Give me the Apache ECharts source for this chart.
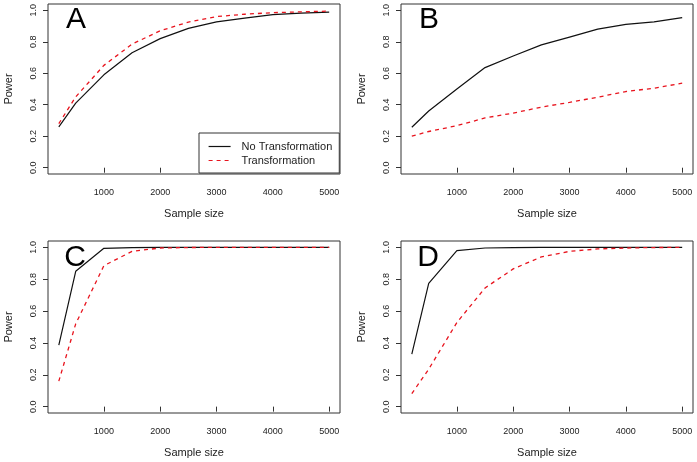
<!DOCTYPE html>
<html>
<head>
<meta charset="utf-8">
<script src="https://cdn.jsdelivr.net/npm/echarts@6/dist/echarts.min.js"></script>
<style>
  html, body { margin: 0; padding: 0; background: #fff; }
  #chart { width: 697px; height: 462px; }
</style>
</head>
<body>
<div id="chart"></div>
<script>
// sample sizes used in the simulation
var sampleSizes = [200, 500, 1000, 1500, 2000, 2500, 3000, 3500, 4000, 4500, 5000];
var xTicks = [1000, 2000, 3000, 4000, 5000];
var yTicks = [0, 0.2, 0.4, 0.6, 0.8, 1.0];
var seriesNames = ['No Transformation', 'Transformation'];
var panelLetters = ['A', 'B', 'C', 'D'];

// power values
var aNoTrans = [0.26, 0.41, 0.59, 0.73, 0.82, 0.885, 0.926, 0.95, 0.972, 0.982, 0.988];
var aTrans   = [0.28, 0.45, 0.65, 0.785, 0.87, 0.925, 0.96, 0.975, 0.985, 0.99, 0.995];
var bNoTrans = [0.257, 0.36, 0.50, 0.636, 0.71, 0.78, 0.83, 0.88, 0.91, 0.926, 0.954];
var bTrans   = [0.20, 0.23, 0.267, 0.316, 0.347, 0.385, 0.415, 0.448, 0.484, 0.505, 0.537];
var cNoTrans = [0.386, 0.85, 0.994, 0.998, 1, 1, 1, 1, 1, 1, 1];
var cTrans   = [0.16, 0.52, 0.885, 0.975, 0.996, 0.999, 1, 1, 1, 1, 1];
var dNoTrans = [0.33, 0.774, 0.98, 0.996, 0.999, 1, 1, 1, 1, 1, 1];
var dTrans   = [0.082, 0.235, 0.528, 0.745, 0.865, 0.94, 0.975, 0.99, 0.996, 0.999, 1];

var panelData = [[aNoTrans, aTrans], [bNoTrans, bTrans], [cNoTrans, cTrans], [dNoTrans, dTrans]];

// plot boxes (R style, 4% padding around the data range)
var boxes = [
  { left: 48, top: 4, width: 292, height: 170 },
  { left: 401, top: 4, width: 292, height: 170 },
  { left: 48, top: 241, width: 292, height: 172 },
  { left: 401, top: 241, width: 292, height: 172 }
];
var letterPos = [[76, 20], [429, 20], [75, 258], [428, 258]];

var font = '"Liberation Sans", Arial, sans-serif';
var ink = '#222';

var toPairs = function(values) {
  return sampleSizes.map(function(x, i) { return [x, values[i]]; });
};

var grids = [], xAxes = [], yAxes = [], series = [], graphics = [];

boxes.forEach(function(box, i) {
  grids.push({
    left: box.left, top: box.top, width: box.width, height: box.height,
    show: true, borderColor: '#333', borderWidth: 1, backgroundColor: 'transparent'
  });
  xAxes.push({
    gridIndex: i,
    type: 'value',
    min: 8,
    max: 5192,
    name: 'Sample size',
    nameLocation: 'middle',
    nameGap: 34,
    nameTextStyle: { fontFamily: font, fontSize: 11, color: ink },
    axisLine: { show: false },
    axisTick: { show: true, inside: false, length: 5, customValues: xTicks, lineStyle: { color: '#333' } },
    axisLabel: {
      customValues: xTicks, fontFamily: font, fontSize: 9, color: ink, margin: 14,
      formatter: function(v) { return String(v); }
    },
    splitLine: { show: false }
  });
  yAxes.push({
    gridIndex: i,
    type: 'value',
    min: -0.04,
    max: 1.04,
    name: 'Power',
    nameLocation: 'middle',
    nameGap: 34,
    nameTextStyle: { fontFamily: font, fontSize: 11, color: ink },
    axisLine: { show: false },
    axisTick: { show: true, inside: false, length: 5, customValues: yTicks, lineStyle: { color: '#333' } },
    axisLabel: {
      customValues: yTicks, rotate: 90, fontFamily: font, fontSize: 9, color: ink, margin: 10,
      formatter: function(v) { return v.toFixed(1); }
    },
    splitLine: { show: false }
  });
  series.push({
    name: seriesNames[0],
    type: 'line',
    xAxisIndex: i,
    yAxisIndex: i,
    data: toPairs(panelData[i][0]),
    symbol: 'none',
    lineStyle: { color: '#111', width: 1.2 },
    itemStyle: { color: '#111' }
  });
  series.push({
    name: seriesNames[1],
    type: 'line',
    xAxisIndex: i,
    yAxisIndex: i,
    data: toPairs(panelData[i][1]),
    symbol: 'none',
    lineStyle: { color: '#e8141e', width: 1.3, type: [4, 4] },
    itemStyle: { color: '#e8141e' }
  });
  // big panel letter
  graphics.push({
    type: 'text',
    x: letterPos[i][0],
    y: letterPos[i][1],
    z: 100,
    style: {
      text: panelLetters[i],
      font: '30px ' + font,
      fill: '#000',
      textAlign: 'center',
      textVerticalAlign: 'middle'
    }
  });
});

var chart = echarts.init(document.getElementById('chart'), null, { renderer: 'canvas' });
chart.setOption({
  animation: false,
  backgroundColor: '#fff',
  grid: grids,
  xAxis: xAxes,
  yAxis: yAxes,
  legend: {
    data: seriesNames,
    orient: 'vertical',
    left: 199,
    top: 133,
    padding: [8, 7, 7, 9],
    itemWidth: 22,
    itemHeight: 12,
    itemGap: 3,
    borderColor: '#333',
    borderWidth: 1,
    backgroundColor: '#fff',
    selectedMode: false,
    itemStyle: { opacity: 0 },
    lineStyle: { width: 1.2 },
    textStyle: { fontFamily: font, fontSize: 11, color: ink, padding: [0, 0, 0, 6] }
  },
  graphic: graphics,
  series: series
});
</script>
</body>
</html>
